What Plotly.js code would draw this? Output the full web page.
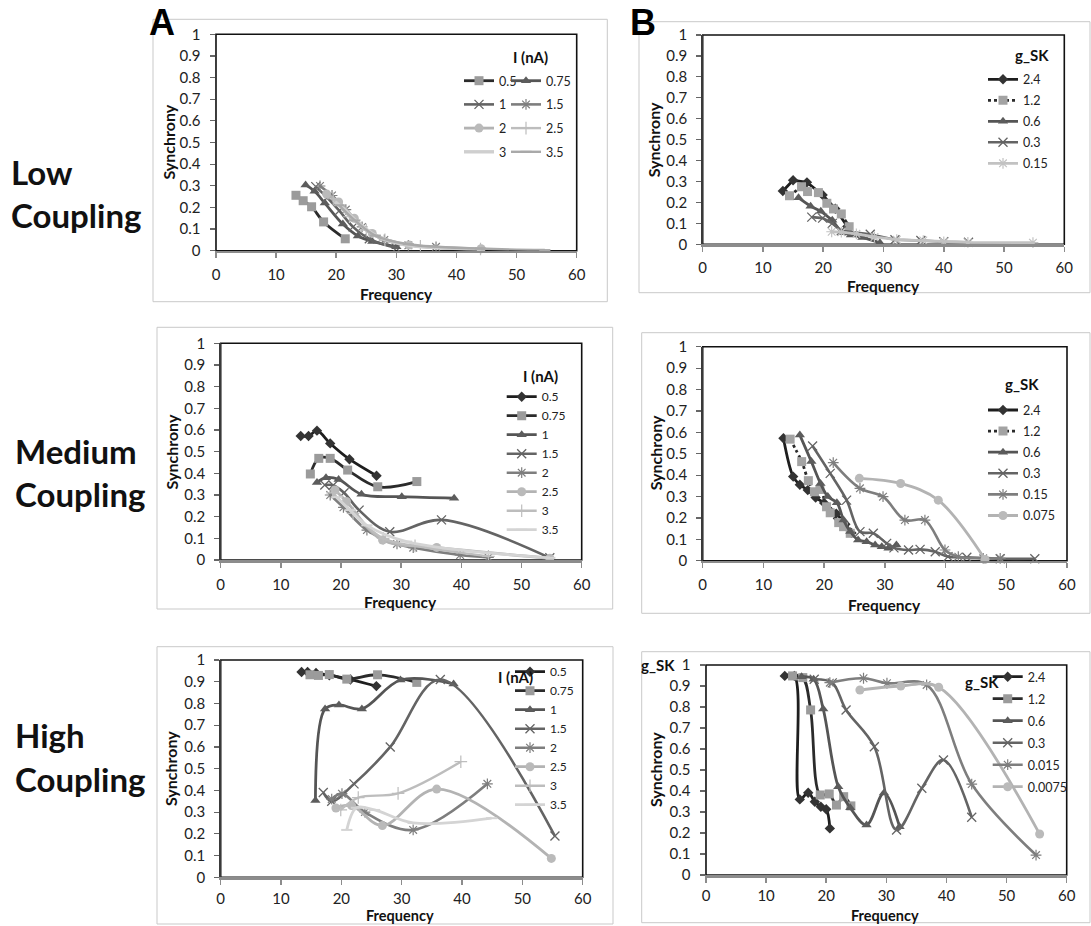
<!DOCTYPE html>
<html>
<head>
<meta charset="utf-8">
<script src="https://cdn.plot.ly/plotly-3.0.1.min.js"></script>
<style>html,body{margin:0;padding:0;background:#fff}</style>
</head>
<body>
<div id="chart" style="width:1091px;height:926px"></div>
<script>
// Synchrony vs. network frequency for a sweep of injected current (column A)
// and of SK conductance g_SK (column B), at low / medium / high coupling.

// ---- Low coupling, current sweep ----
const lowA_labels = ['0.5', '0.75', '1', '1.5', '2', '2.5', '3', '3.5'];
const lowA_freq = [
  [13.3, 14.5, 15.9, 17.9, 21.5],
  [14.9, 16.4, 18.1, 21.1, 23.6, 26.0, 30.0],
  [16.6, 18.5, 20.5, 22.8, 25.5, 30.0],
  [17.3, 19.3, 21.6, 24.3, 28.0, 32.0, 36.6],
  [18.4, 20.4, 23.0, 26.0, 32.1, 44.1],
  [19.5, 22.2, 25.0, 28.1, 34.0, 44.0],
  [19.8, 21.4, 23.6, 26.6, 31.0, 44.0],
  [20.5, 23.1, 26.5, 32.0, 44.0, 54.7]
];
const lowA_sync = [
  [0.256, 0.231, 0.203, 0.133, 0.055],
  [0.304, 0.275, 0.220, 0.123, 0.068, 0.043, 0.018],
  [0.296, 0.245, 0.185, 0.110, 0.055, 0.012],
  [0.299, 0.255, 0.190, 0.110, 0.050, 0.025, 0.018],
  [0.262, 0.225, 0.150, 0.080, 0.026, 0.009],
  [0.240, 0.157, 0.095, 0.050, 0.020, 0.008],
  [0.226, 0.190, 0.130, 0.070, 0.030, 0.008],
  [0.210, 0.140, 0.070, 0.030, 0.010, 0.003]
];

// ---- Low coupling, g_SK sweep ----
const lowB_labels = ['2.4', '1.2', '0.6', '0.3', '0.15'];
const lowB_freq = [
  [13.3, 15.0, 17.3, 19.9, 22.0, 24.0],
  [14.4, 16.4, 17.4, 19.2, 20.6, 21.7, 23.0, 24.3],
  [15.9, 17.9, 19.6, 21.5, 23.1, 24.6, 26.5, 29.4],
  [18.1, 19.9, 21.5, 23.0, 27.8, 31.9, 36.2, 40.0, 44.1],
  [21.4, 23.0, 25.5, 28.5, 32.2, 36.6, 40.0, 44.0, 54.8]
];
const lowB_sync = [
  [0.255, 0.306, 0.296, 0.236, 0.170, 0.085],
  [0.232, 0.275, 0.252, 0.247, 0.196, 0.169, 0.145, 0.084],
  [0.222, 0.182, 0.158, 0.115, 0.055, 0.045, 0.033, 0.008],
  [0.130, 0.125, 0.100, 0.065, 0.048, 0.022, 0.018, 0.012, 0.010],
  [0.060, 0.058, 0.050, 0.035, 0.022, 0.018, 0.012, 0.009, 0.008]
];

// ---- Medium coupling, current sweep ----
const medA_labels = ['0.5', '0.75', '1', '1.5', '2', '2.5', '3', '3.5'];
const medA_freq = [
  [13.3, 14.6, 16.0, 18.2, 21.4, 25.9],
  [14.9, 16.3, 18.2, 21.1, 26.1, 32.6],
  [16.0, 17.5, 19.6, 23.4, 30.1, 38.8],
  [17.3, 18.7, 20.5, 23.0, 28.1, 36.7, 54.7],
  [18.2, 20.4, 24.3, 29.3, 32.0, 39.8, 44.5],
  [19.0, 20.9, 26.9, 35.9, 54.7],
  [18.6, 22.0, 27.0, 32.3, 44.5],
  [19.3, 21.5, 24.3, 30.9, 54.7]
];
const medA_sync = [
  [0.572, 0.572, 0.597, 0.538, 0.465, 0.389],
  [0.397, 0.469, 0.469, 0.415, 0.338, 0.362],
  [0.358, 0.380, 0.372, 0.303, 0.292, 0.285],
  [0.346, 0.345, 0.310, 0.230, 0.130, 0.185, 0.010],
  [0.300, 0.243, 0.138, 0.074, 0.057, 0.023, 0.012],
  [0.323, 0.270, 0.092, 0.058, 0.008],
  [0.310, 0.215, 0.100, 0.065, 0.017],
  [0.290, 0.230, 0.160, 0.085, 0.010]
];

// ---- Medium coupling, g_SK sweep ----
const medB_labels = ['2.4', '1.2', '0.6', '0.3', '0.15', '0.075'];
const medB_freq = [
  [13.3, 14.9, 16.0, 17.3, 18.6, 20.0, 22.0, 23.5, 24.5],
  [14.4, 16.3, 17.4, 18.4, 19.3, 20.4, 21.0, 22.4, 23.2, 24.3],
  [16.0, 17.9, 19.4, 20.6, 22.1, 23.2, 24.3, 25.6, 27.0, 28.4, 29.5, 30.6, 31.9],
  [18.1, 21.0, 23.7, 25.9, 28.1, 30.3, 31.5, 33.9, 35.8, 38.3, 40.4, 43.5, 49.0, 54.7],
  [21.5, 25.9, 29.7, 33.3, 36.6, 39.9, 42.1, 46.2, 49.0],
  [25.8, 32.6, 38.8, 46.5]
];
const medB_sync = [
  [0.572, 0.393, 0.355, 0.330, 0.295, 0.270, 0.220, 0.170, 0.130],
  [0.568, 0.463, 0.374, 0.322, 0.333, 0.252, 0.224, 0.178, 0.159, 0.128],
  [0.587, 0.463, 0.361, 0.300, 0.271, 0.190, 0.136, 0.097, 0.089, 0.073, 0.065, 0.058, 0.073],
  [0.536, 0.408, 0.283, 0.136, 0.128, 0.081, 0.060, 0.050, 0.053, 0.042, 0.019, 0.016, 0.009, 0.009],
  [0.458, 0.338, 0.299, 0.190, 0.190, 0.050, 0.019, 0.011, 0.011],
  [0.385, 0.361, 0.283, 0.006]
];

// ---- High coupling, current sweep ----
const highA_labels = ['0.5', '0.75', '1', '1.5', '2', '2.5', '3', '3.5'];
const highA_freq = [
  [13.4, 14.4, 15.8, 18.0, 21.5, 25.8],
  [14.8, 16.2, 18.0, 20.9, 26.0, 32.5],
  [15.7, 17.3, 19.6, 23.4, 29.8, 38.6],
  [17.0, 18.4, 22.1, 28.1, 36.4, 55.4],
  [18.4, 20.1, 23.9, 31.9, 44.2],
  [19.1, 21.7, 26.8, 35.8, 54.8],
  [19.9, 22.8, 29.4, 39.8],
  [20.9, 22.5, 25.5, 31.9, 44.9]
];
const highA_sync = [
  [0.945, 0.945, 0.940, 0.930, 0.910, 0.880],
  [0.932, 0.929, 0.933, 0.912, 0.932, 0.897],
  [0.353, 0.775, 0.793, 0.775, 0.908, 0.890],
  [0.390, 0.350, 0.430, 0.600, 0.910, 0.190],
  [0.360, 0.385, 0.300, 0.218, 0.430],
  [0.319, 0.330, 0.238, 0.406, 0.087],
  [0.310, 0.367, 0.386, 0.532],
  [0.218, 0.320, 0.310, 0.250, 0.272]
];

// ---- High coupling, g_SK sweep ----
const highB_labels = ['2.4', '1.2', '0.6', '0.3', '0.015', '0.0075'];
const highB_freq = [
  [13.1, 14.7, 15.6, 17.0, 18.1, 19.1, 20.0, 20.6],
  [14.4, 16.1, 17.4, 19.0, 20.5, 21.7, 22.9, 24.1],
  [15.9, 17.9, 19.5, 22.0, 24.0, 26.7, 29.6, 32.2],
  [18.0, 21.0, 23.3, 28.0, 31.7, 35.9, 39.5, 44.2],
  [20.6, 26.2, 30.1, 36.7, 44.2, 54.9],
  [25.6, 32.4, 38.7, 55.5]
];
const highB_sync = [
  [0.948, 0.948, 0.360, 0.392, 0.349, 0.325, 0.313, 0.222],
  [0.948, 0.940, 0.786, 0.381, 0.386, 0.333, 0.373, 0.329],
  [0.944, 0.932, 0.790, 0.420, 0.320, 0.238, 0.390, 0.230],
  [0.932, 0.915, 0.786, 0.611, 0.214, 0.413, 0.548, 0.275],
  [0.916, 0.937, 0.913, 0.905, 0.433, 0.095],
  [0.881, 0.900, 0.894, 0.195]
];

const xTicks = [0, 10, 20, 30, 40, 50, 60];

// ---------------- drawing ----------------
const W = 1091, H = 926;
const fx = v => v / W;          // pixel -> paper x
const fy = v => 1 - v / H;      // pixel -> paper y
const FONT = 'Lato, "Open Sans", sans-serif';

// Greyscale line/marker looks
const LOOK = {
  diamond: {color: '#1e1e1e', width: 2.8, marker: {symbol: 'diamond', size: 8, color: '#333333'}},
  square:  {color: '#2b2b2b', width: 2.8, marker: {symbol: 'square', size: 9, color: '#9b9b9b'}},
  squareDot: {color: '#2b2b2b', width: 2.8, dash: 'dot', marker: {symbol: 'square', size: 9, color: '#a3a3a3'}},
  tri:     {color: '#555555', width: 2.8, marker: {symbol: 'triangle-up', size: 9, color: '#5c5c5c'}},
  cross:   {color: '#646464', width: 2.6, marker: {symbol: 'x-thin-open', size: 9, line: {color: '#4d4d4d', width: 1.3}}},
  star:    {color: '#7e7e7e', width: 2.6, marker: {symbol: 'asterisk-open', size: 9, line: {color: '#7a7a7a', width: 1.2}}},
  starLight: {color: '#c2c2c2', width: 2.8, marker: {symbol: 'asterisk-open', size: 9, line: {color: '#a8a8a8', width: 1.2}}},
  dot:     {color: '#b3b3b3', width: 2.8, marker: {symbol: 'circle', size: 9, color: '#bababa'}},
  plus:    {color: '#bdbdbd', width: 2.4, marker: {symbol: 'cross-thin-open', size: 9, line: {color: '#9d9d9d', width: 1.2}}},
  dash:    {color: '#d4d4d4', width: 2.8, marker: {symbol: 'line-ew-open', size: 8, line: {color: '#c4c4c4', width: 2}}},
  dashGrey:{color: '#a9a9a9', width: 2.4, marker: {symbol: 'line-ew-open', size: 8, line: {color: '#9a9a9a', width: 2}}},
  plain:   {color: '#cfcfcf', width: 3.4, marker: null}
};

// Plot-area rectangles (px), outer chart-box rectangles (px) and label spots
const PANELS = [
  {key: 'lowA', freq: lowA_freq, sync: lowA_sync, labels: lowA_labels, smooth: true,
   looks: ['square', 'tri', 'cross', 'star', 'dot', 'plus', 'plain', 'dashGrey'],
   legends: ['legend', 'legend2', 'legend', 'legend2', 'legend', 'legend2', 'legend', 'legend2'],
   l: 216, r: 576.7, t: 34.3, b: 250.7, box: [153, 19.3, 607.3, 301.7], gap: 4,
   syn: [168, 142.5], fq: [396, 293.5, 15.5], title: ['I (nA)', 530, 56.7]},
  {key: 'lowB', freq: lowB_freq, sync: lowB_sync, labels: lowB_labels, smooth: false,
   looks: ['diamond', 'squareDot', 'tri', 'cross', 'starLight'], legends: 'legend3',
   l: 702.7, r: 1064.3, t: 35, b: 244.3, box: [639, 21.7, 1090, 292.7], gap: 3,
   syn: [653.3, 140], fq: [883.3, 286, 15.5], title: ['g_SK', 1031.7, 55]},
  {key: 'medA', freq: medA_freq, sync: medA_sync, labels: medA_labels, smooth: true,
   looks: ['diamond', 'square', 'tri', 'cross', 'star', 'dot', 'plus', 'dash'], legends: 'legend4',
   l: 220.7, r: 581.7, t: 343.3, b: 560, box: [157, 327.3, 612.7, 609], gap: 4,
   syn: [171.7, 451.7], fq: [400, 602, 15.5], title: ['I (nA)', 540, 376]},
  {key: 'medB', freq: medB_freq, sync: medB_sync, labels: medB_labels, smooth: true,
   looks: ['diamond', 'squareDot', 'tri', 'cross', 'star', 'dot'], legends: 'legend5',
   l: 702.7, r: 1067, t: 346.7, b: 560.7, box: [641.7, 332.7, 1090, 613.3], gap: 4,
   syn: [655, 453.3], fq: [884, 604.5, 15.5], title: ['g_SK', 1021.7, 384.3]},
  {key: 'highA', freq: highA_freq, sync: highA_sync, labels: highA_labels, smooth: true,
   looks: ['diamond', 'square', 'tri', 'cross', 'star', 'dot', 'plus', 'dash'], legends: 'legend6',
   l: 220.7, r: 582.7, t: 660, b: 877.3, box: [157, 646.7, 613, 924], gap: 1,
   syn: [170.7, 768.3], fq: [400, 915.5, 14.5], title: ['I (nA)', 515, 677]},
  {key: 'highB', freq: highB_freq, sync: highB_sync, labels: highB_labels, smooth: true,
   looks: ['diamond', 'square', 'tri', 'cross', 'star', 'dot'], legends: 'legend7',
   l: 706, r: 1066.7, t: 665, b: 875, box: [641.7, 651.7, 1090, 922.7], gap: 0,
   syn: [655, 770], fq: [885, 915.5, 14.5], title: ['g_SK', 981.7, 681.7]}
];

// legend boxes: [id, text-left px, first-row centre px, font size, row pitch px]
const LEGENDS = [
  ['legend', 499, 80.7, 12.5, 23.7],
  ['legend2', 546, 80.7, 12.5, 23.7],
  ['legend3', 1023, 79.3, 12.5, 21],
  ['legend4', 541.7, 396.7, 12, 19],
  ['legend5', 1023, 410, 12.5, 21.1],
  ['legend6', 550, 671.7, 12, 19],
  ['legend7', 1027.7, 676.7, 12.5, 22]
];

const traces = [];
const layout = {
  width: W, height: H,
  margin: {l: 0, r: 0, t: 0, b: 0, autoexpand: false},
  paper_bgcolor: '#ffffff', plot_bgcolor: '#ffffff',
  font: {family: FONT, color: '#222'},
  showlegend: true,
  annotations: [], shapes: []
};

function label(text, x, y, size, opts) {
  return Object.assign({text: text, xref: 'paper', yref: 'paper', x: fx(x), y: fy(y),
    xanchor: 'center', yanchor: 'middle', showarrow: false, borderpad: 0,
    font: {family: FONT, size: size, color: '#111', weight: 700}}, opts || {});
}

PANELS.forEach((p, i) => {
  const n = i + 1;
  const xa = n === 1 ? 'x' : 'x' + n;
  const ya = n === 1 ? 'y' : 'y' + n;
  layout[n === 1 ? 'xaxis' : 'xaxis' + n] = {
    domain: [fx(p.l), fx(p.r)], anchor: ya, range: [0, 60],
    tickmode: 'array', tickvals: xTicks, ticktext: xTicks.map(String),
    ticks: 'outside', ticklen: 5, tickwidth: 1.5, tickcolor: '#8c8c8c',
    showline: true, linecolor: '#8c8c8c', linewidth: 2.5,
    showgrid: false, zeroline: false, fixedrange: true,
    ticklabelstandoff: p.gap,
    tickfont: {family: FONT, size: 15, color: '#222'}
  };
  layout[n === 1 ? 'yaxis' : 'yaxis' + n] = {
    domain: [fy(p.b), fy(p.t)], anchor: xa, range: [0, 1], dtick: 0.1, tick0: 0,
    ticks: 'outside', ticklen: 5, tickwidth: 1.2, tickcolor: '#666',
    showline: true, linecolor: '#3a3a3a', linewidth: 1.5,
    showgrid: false, zeroline: false, fixedrange: true,
    ticklabelstandoff: 6,
    tickfont: {family: FONT, size: 15, color: '#222'}
  };
  // plot-area frame
  layout.shapes.push({type: 'rect', xref: xa + ' domain', yref: ya + ' domain',
    x0: 0, x1: 1, y0: 0, y1: 1, layer: 'below', line: {color: '#111', width: 1.6}});
  // chart box
  layout.shapes.push({type: 'rect', xref: 'paper', yref: 'paper', layer: 'below',
    x0: fx(p.box[0]), x1: fx(p.box[2]), y0: fy(p.box[3]), y1: fy(p.box[1]),
    line: {color: '#c9c9c9', width: 1}});
  // axis titles and legend heading
  layout.annotations.push(label('<b>Synchrony</b>', p.syn[0], p.syn[1], 16, {textangle: -90}));
  layout.annotations.push(label('<b>Frequency</b>', p.fq[0], p.fq[1], p.fq[2]));
  layout.annotations.push(label('<b>' + p.title[0] + '</b>', p.title[1], p.title[2], 15));

  p.labels.forEach((lab, k) => {
    const lk = LOOK[p.looks[k]];
    const tr = {
      type: 'scatter', x: p.freq[k], y: p.sync[k], name: lab,
      xaxis: xa, yaxis: ya, cliponaxis: false, hoverinfo: 'skip',
      legend: Array.isArray(p.legends) ? p.legends[k] : p.legends,
      legendgroup: p.key + k,
      mode: lk.marker ? 'lines+markers' : 'lines',
      line: {color: lk.color, width: lk.width, dash: lk.dash || 'solid',
             shape: p.smooth ? 'spline' : 'linear', smoothing: 1}
    };
    if (lk.marker) tr.marker = lk.marker;
    traces.push(tr);
  });
});

LEGENDS.forEach(([id, textLeft, firstRow, size, pitch]) => {
  const itemH = Math.max(size * 1.3, 16) + 3;
  layout[id] = {
    x: fx(textLeft - 40), y: fy(firstRow - 5 - itemH / 2),
    xanchor: 'left', yanchor: 'top', orientation: 'v',
    bgcolor: 'rgba(0,0,0,0)', borderwidth: 0, itemwidth: 30,
    traceorder: 'grouped', tracegroupgap: Math.max(0, pitch - itemH),
    font: {family: FONT, size: size, color: '#222'}
  };
});

// column letters, row headings and the extra g_SK tag by the top tick
const ARIAL = '"Liberation Sans", Arial, sans-serif';
layout.annotations.push(
  label('<b>A</b>', 162, 22, 36, {font: {family: ARIAL, size: 36, color: '#000'}}),
  label('<b>B</b>', 643, 22, 36, {font: {family: ARIAL, size: 36, color: '#000'}}),
  label('<b>Low</b>', 10, 172, 33, {xanchor: 'left'}),
  label('<b>Coupling</b>', 10, 215, 33, {xanchor: 'left'}),
  label('<b>Medium</b>', 14, 451, 33, {xanchor: 'left'}),
  label('<b>Coupling</b>', 14, 494, 33, {xanchor: 'left'}),
  label('<b>High</b>', 14, 735, 33, {xanchor: 'left'}),
  label('<b>Coupling</b>', 14, 779, 33, {xanchor: 'left'}),
  label('<b>g_SK</b>', 657.5, 665, 15)
);

Plotly.newPlot('chart', traces, layout, {staticPlot: true, displayModeBar: false});
</script>
</body>
</html>
